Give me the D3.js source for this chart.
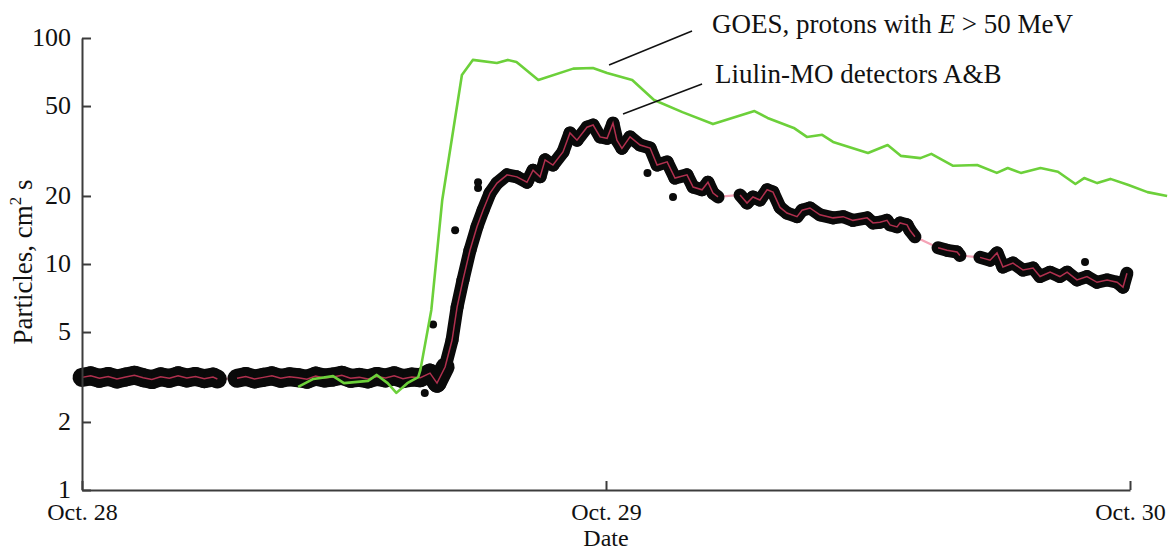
<!DOCTYPE html>
<html>
<head>
<meta charset="utf-8">
<script src="https://cdn.jsdelivr.net/npm/d3@7/dist/d3.min.js"></script>
<style>
  html, body { margin: 0; padding: 0; background: #fff; }
  svg { display: block; }
  text { font-family: "Liberation Serif", "Times New Roman", "DejaVu Serif", serif; fill: #111; }
</style>
</head>
<body>
<svg id="chart" width="1172" height="552"></svg>
<script>
// ---------- data (hours since Oct. 28 00:00) ----------
const xTickHours = [0, 24, 48];
const xTickLabels = ["Oct. 28", "Oct. 29", "Oct. 30"];
const yTickValues = [1, 2, 5, 10, 20, 50, 100];

// GOES, protons with E > 50 MeV
const goesHours = [9.9, 10.6, 11.5, 12.0, 13.1, 13.5, 14.0, 14.4, 14.9, 15.4, 15.5, 16.0, 16.5, 17.4, 17.9,
  19.0, 19.5, 19.9, 20.9, 22.5, 23.4, 24.05, 25.2, 26.2, 27.5, 28.9, 30.8, 31.4, 32.6, 33.2, 33.9, 34.4,
  36.0, 36.9, 37.5, 38.4, 38.9, 39.9, 41.0, 41.9, 42.4, 43.0, 43.9, 44.7, 45.5, 45.9, 46.5, 47.1, 47.9, 48.8, 49.7];
const goesValues = [2.86, 3.10, 3.19, 2.97, 3.04, 3.23, 2.97, 2.69, 2.97, 3.16, 3.40, 6.26, 19.2, 68.6, 80,
  77.5, 80, 78.3, 65.2, 73.2, 73.7, 70, 65.2, 53.2, 47.0, 41.6, 47.5, 44.3, 40, 36.5, 37.3, 34.7,
  31.0, 33.6, 30.1, 29.4, 30.7, 27.2, 27.4, 25.3, 26.6, 25.3, 26.6, 25.6, 22.6, 24.0, 22.8, 23.8, 22.4, 20.8, 20.0];

// Liulin-MO detectors A&B (running values), with data segment ids
const liulinHours = [
  0, 0.4, 0.8, 1.2, 1.6, 2.0, 2.4, 2.8, 3.2, 3.6, 4.0, 4.4, 4.8, 5.2, 5.6, 6.0, 6.2,
  7.1, 7.5, 7.9, 8.3, 8.7, 9.1, 9.5, 9.9, 10.3, 10.7, 11.1, 11.5, 11.9, 12.3, 12.7, 13.1, 13.5, 13.9, 14.3, 14.7, 15.1, 15.5,
  15.94, 16.26, 16.63, 16.95, 17.18, 17.45, 17.77, 18.09, 18.37, 18.69, 19.01, 19.47, 19.92, 20.38, 20.66, 20.98,
  21.21, 21.57, 22.03, 22.35, 22.67, 23.13, 23.41, 23.73, 24.05, 24.32, 24.50, 24.73, 25.10, 25.56, 26.02, 26.34,
  26.80, 27.16, 27.71, 27.99, 28.40, 28.67, 28.90, 29.13,
  30.14, 30.46, 30.73, 31.05, 31.38, 31.65, 31.97, 32.29, 32.75, 32.98, 33.34, 33.80, 34.40, 34.86, 35.31, 35.96,
  36.23, 36.55, 36.87, 37.01, 37.33, 37.47, 37.79, 37.92, 38.15,
  39.21, 39.62, 40.08, 40.21,
  41.13, 41.59, 41.91, 42.18, 42.64, 43.10, 43.56, 43.88, 44.34, 44.79, 45.12, 45.57, 46.03, 46.49, 46.95, 47.41, 47.68, 47.86];
const liulinValues = [
  3.15, 3.20, 3.12, 3.18, 3.10, 3.16, 3.22, 3.14, 3.08, 3.17, 3.12, 3.20, 3.13, 3.18, 3.11, 3.16, 3.10,
  3.12, 3.18, 3.10, 3.15, 3.20, 3.12, 3.17, 3.14, 3.09, 3.19, 3.13, 3.16, 3.22, 3.12, 3.15, 3.10, 3.18, 3.13, 3.20, 3.11, 3.16, 3.14,
  3.29, 2.97, 3.50, 4.61, 6.45, 8.5, 11.5, 14.6, 17.3, 20.6, 22.8, 24.8, 24.3, 23.0, 26.0, 24.3,
  28.9, 27.4, 31.3, 38.0, 35.3, 40.3, 41.2, 36.5, 36.0, 42.0, 35.3, 32.5, 36.5, 33.6, 32.6, 27.4,
  28.3, 24.0, 24.8, 21.9, 21.3, 23.0, 20.6, 19.8,
  20.2, 18.6, 19.8, 19.2, 21.3, 20.8, 17.8, 16.8, 16.2, 17.3, 17.7, 16.5, 16.0, 16.2, 15.6, 16.0,
  15.2, 15.3, 15.6, 14.9, 14.6, 15.2, 14.9, 14.1, 13.2,
  11.8, 11.5, 11.3, 10.9,
  10.7, 10.4, 11.2, 9.7, 10.1, 9.4, 9.6, 8.8, 9.2, 8.8, 9.2, 8.5, 8.8, 8.3, 8.5, 8.3, 7.9, 9.1];
const liulinSegment = [
  1,1,1,1,1,1,1,1,1,1,1,1,1,1,1,1,1,
  2,2,2,2,2,2,2,2,2,2,2,2,2,2,2,2,2,2,2,2,2,2,
  2,2,2,2,2,2,2,2,2,2,2,2,2,2,2,2,
  2,2,2,2,2,2,2,2,2,2,2,2,2,2,2,2,
  2,2,2,2,2,2,2,2,
  3,3,3,3,3,3,3,3,3,3,3,3,3,3,3,3,
  3,3,3,3,3,3,3,3,3,
  4,4,4,4,
  5,5,5,5,5,5,5,5,5,5,5,5,5,5,5,5,5,5];

// isolated Liulin points
const outlierHours = [16.08, 17.09, 18.14, 18.14, 25.9, 27.07, 15.7, 45.94];
const outlierValues = [5.4, 14.1, 21.7, 23.0, 25.3, 19.8, 2.69, 10.2];

// annotations: [label, leader start (h, v), leader end (h, v)]
const annLabels = ["GOES, protons with ", "Liulin-MO detectors A&B"];
const annStartH = [24.14, 24.78];
const annStartV = [75.9, 46.1];
const annEndH = [27.94, 28.4];
const annEndV = [107.4, 62.6];

// ---------- drawing ----------
const svg = d3.select("#chart");
const x = d3.scaleLinear().domain([0, 48]).range([82, 1130]);
const y = d3.scaleLog().domain([1, 100]).range([490, 38]);

const pts = liulinHours.map((h, i) => ({h, v: liulinValues[i], s: liulinSegment[i]}));

// pink connector line (all points, spans gaps)
svg.append("path")
  .attr("d", d3.line().x(d => x(d.h)).y(d => y(d.v))(pts))
  .attr("fill", "none").attr("stroke", "#f5a3b6").attr("stroke-width", 2.2);

// black scatter band
const bandG = svg.append("g");
for (let i = 0; i < pts.length - 1; i++) {
  const a = pts[i], b = pts[i + 1];
  if (a.s !== b.s) continue;
  const w = (a.v < 3.8 && b.v < 3.8) ? 19 : 13;
  bandG.append("line")
    .attr("x1", x(a.h)).attr("y1", y(a.v)).attr("x2", x(b.h)).attr("y2", y(b.v))
    .attr("stroke", "#0a0a0a").attr("stroke-width", w).attr("stroke-linecap", "round");
}
bandG.selectAll("circle.o").data(outlierHours).join("circle")
  .attr("cx", d => x(d)).attr("cy", (d, i) => y(outlierValues[i])).attr("r", 4)
  .attr("fill", "#0a0a0a");

// dark red running line per segment
const segIds = Array.from(new Set(liulinSegment));
segIds.forEach(s => {
  svg.append("path")
    .attr("d", d3.line().x(d => x(d.h)).y(d => y(d.v))(pts.filter(p => p.s === s)))
    .attr("fill", "none").attr("stroke", "#b0304e").attr("stroke-width", 1.5);
});

// GOES green line
svg.append("path")
  .attr("d", d3.line().x((d, i) => x(d)).y((d, i) => y(goesValues[i]))(goesHours))
  .attr("fill", "none").attr("stroke", "#6cd03a").attr("stroke-width", 2.6)
  .attr("stroke-linejoin", "round");

// axes
const yAxis = d3.axisLeft(y).tickValues(yTickValues).tickFormat(d3.format("d"))
  .tickSizeInner(-9).tickSizeOuter(0).tickPadding(11);
const gy = svg.append("g").attr("transform", "translate(82,0)").call(yAxis);
const xAxis = d3.axisBottom(x).tickValues(xTickHours).tickFormat((d, i) => xTickLabels[i])
  .tickSizeInner(-9).tickSizeOuter(0).tickPadding(13);
const gx = svg.append("g").attr("transform", "translate(0,490)").call(xAxis);
[gx, gy].forEach(g => {
  g.select(".domain").attr("stroke", "#3c3c3c").attr("stroke-width", 2);
  g.selectAll(".tick line").attr("stroke", "#3c3c3c").attr("stroke-width", 2);
  g.selectAll("text").attr("font-size", 26)
    .attr("font-family", "'Liberation Serif', 'Times New Roman', serif").attr("fill", "#111");
});
gx.selectAll(".tick text").attr("font-size", 24);
gy.selectAll(".tick text").attr("dy", "0.28em");

// axis titles
svg.append("text").attr("x", x(24)).attr("y", 546).attr("text-anchor", "middle")
  .attr("font-size", 24).text("Date");
const yt = svg.append("text").attr("transform", "translate(32,262) rotate(-90)")
  .attr("text-anchor", "middle").attr("font-size", 27);
yt.append("tspan").text("Particles, cm");
yt.append("tspan").attr("font-size", 17).attr("dy", -11).text("2");
yt.append("tspan").attr("dy", 11).text(" s");

// annotations
annLabels.forEach((lab, i) => {
  svg.append("line")
    .attr("x1", x(annStartH[i])).attr("y1", y(annStartV[i]))
    .attr("x2", x(annEndH[i])).attr("y2", y(annEndV[i]))
    .attr("stroke", "#111").attr("stroke-width", 1.5);
});
const t1 = svg.append("text").attr("x", 712).attr("y", 33).attr("font-size", 27);
t1.append("tspan").text(annLabels[0]);
t1.append("tspan").attr("font-style", "italic").text("E");
t1.append("tspan").text(" > 50 MeV");
svg.append("text").attr("x", 715).attr("y", 83).attr("font-size", 27).text(annLabels[1]);
</script>
</body>
</html>
